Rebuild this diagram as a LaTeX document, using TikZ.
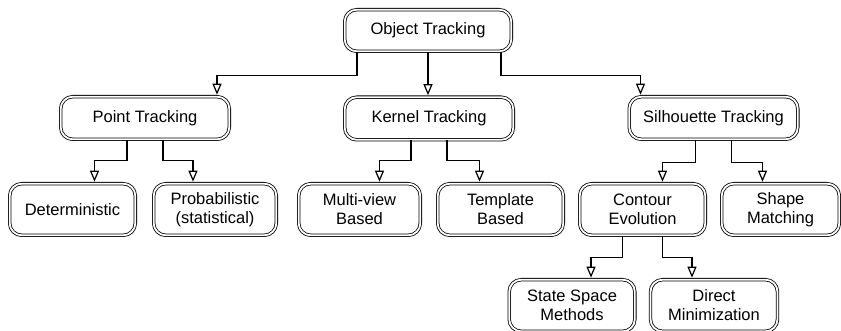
\documentclass[tikz,border=0pt]{standalone}
\usepackage{fontspec}
\setmainfont{Liberation Sans}
\usetikzlibrary{positioning}
\usetikzlibrary{arrows.meta}

\begin{document}
\begin{tikzpicture}[x=1pt,y=-1pt,
  box/.style={draw, double, double distance=1.8pt, line width=0.8pt,
    rounded corners=12pt, align=center, inner sep=0pt,
    minimum width=125.6pt, minimum height=51.6pt,
    font=\fontsize{16.5}{19}\selectfont},
  topbox/.style={box, minimum width=168.6pt, minimum height=42.6pt},
  conn/.style={line width=1.2pt, -{Triangle[open,width=9pt,length=11pt]},
    shorten >=1.6pt}]

  \useasboundingbox (0,0) rectangle (841,331);

  % Root
  \node[topbox, minimum width=166.6pt, minimum height=41.6pt] (ot) at (428,30.5) {Object Tracking};

  % First level
  \node[topbox] (pt) at (145,118) {Point Tracking};
  \node[topbox] (kt) at (429,118.5) {Kernel Tracking};
  \node[topbox] (st) at (713.5,118) {Silhouette Tracking};

  % Second level
  \node[box] (det) at (72.5,209.5) {Deterministic};
  \node[box, minimum width=122.6pt] (prob) at (215,209.5) {Probabilistic\\(statistical)};
  \node[box, minimum width=121.6pt] (mv) at (359.5,209.5) {Multi-view\\Based};
  \node[box] (tb) at (500.5,209.5) {Template\\Based};
  \node[box] (ce) at (642.5,209.5) {Contour\\Evolution};
  \node[box, minimum width=117.6pt] (sm) at (780.5,209.5) {Shape\\Matching};

  % Third level
  \node[box] (ss) at (572,305.5) {State Space\\Methods};
  \node[box, minimum width=127pt] (dm) at (714,305.5) {Direct\\Minimization};

  % Connectors from the root
  \draw[conn] ([xshift=-71pt]ot.south) -- ++(0,24) -| ([xshift=72pt]pt.north);
  \draw[conn] (ot.south) -- (ot.south |- kt.north);
  \draw[conn] ([xshift=73pt]ot.south) -- ++(0,24) -| ([xshift=-73pt]st.north);

  % Point tracking
  \draw[conn] ([xshift=-18pt]pt.south) -- ++(0,21) -| ([xshift=22pt]det.north);
  \draw[conn] ([xshift=18pt]pt.south) -- ++(0,21) -| ([xshift=-22pt]prob.north);

  % Kernel tracking
  \draw[conn] ([xshift=-18pt]kt.south) -- ++(0,20) -| ([xshift=20pt]mv.north);
  \draw[conn] ([xshift=18pt]kt.south) -- ++(0,20) -| ([xshift=-21pt]tb.north);

  % Silhouette tracking
  \draw[conn] ([xshift=-18pt]st.south) -- ++(0,23) -| ([xshift=20pt]ce.north);
  \draw[conn] ([xshift=18pt]st.south) -- ++(0,23) -| ([xshift=-18pt]sm.north);

  % Contour evolution
  \draw[conn] ([xshift=-20pt]ce.south) -- ++(0,22) -| ([xshift=19pt]ss.north);
  \draw[conn] ([xshift=20pt]ce.south) -- ++(0,22) -| ([xshift=-22pt]dm.north);
\end{tikzpicture}
\end{document}
